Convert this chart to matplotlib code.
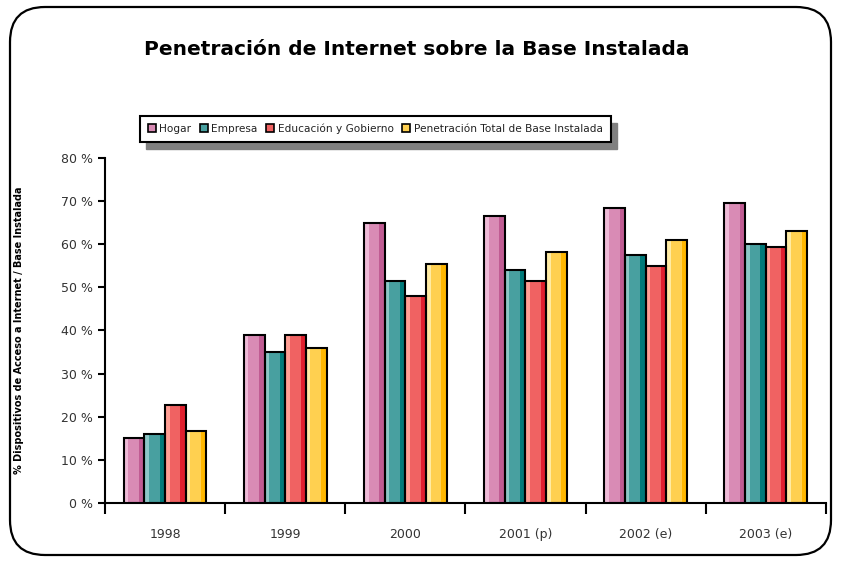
import numpy as np
import matplotlib
matplotlib.use("Agg")
import matplotlib.pyplot as plt
from matplotlib.patches import Patch, FancyBboxPatch, Rectangle

# datos
anios = ["1998", "1999", "2000", "2001 (p)", "2002 (e)", "2003 (e)"]
series = ["Hogar", "Empresa", "Educación y Gobierno", "Penetración Total de Base Instalada"]
hogar = [15.0, 39.0, 65.0, 66.5, 68.5, 69.5]
empresa = [16.0, 35.0, 51.5, 54.0, 57.5, 60.0]
educacion = [22.7, 39.0, 48.0, 51.5, 55.0, 59.3]
total = [16.7, 36.0, 55.5, 58.3, 61.0, 63.0]
valores = [hogar, empresa, educacion, total]

# colores (claro, medio, oscuro)
colores = [
    ("#EDBAD6", "#D98BB5", "#C05C93"),
    ("#8DC7C7", "#48A0A0", "#007A7A"),
    ("#FF9E94", "#F06262", "#E0202E"),
    ("#FFEBA3", "#FFD050", "#FFB700"),
]

fig = plt.figure(figsize=(8.41, 5.62), dpi=100)

# marco redondeado
marco = FancyBboxPatch((0.1, 0.07), 8.21, 5.48, boxstyle="round,pad=0,rounding_size=0.35",
                       transform=fig.dpi_scale_trans, fill=False, lw=1.6, edgecolor="black")
fig.patches.append(marco)

ax = fig.add_axes([0.1249, 0.105, 0.857, 0.614])

x = np.arange(len(anios))
w = 0.172
for i, vals in enumerate(valores):
    claro, medio, oscuro = colores[i]
    pos = x + (i - 1.5) * w
    izq = pos - w / 2
    ax.bar(pos, vals, w, color=medio, edgecolor="none", zorder=2)
    ax.bar(izq, vals, w * 0.22, align="edge", color=claro, edgecolor="none", zorder=3)
    ax.bar(izq + w * 0.74, vals, w * 0.26, align="edge", color=oscuro, edgecolor="none", zorder=3)
    ax.bar(pos, vals, w, fill=False, edgecolor="black", lw=1.5, zorder=4)

ax.set_xlim(-0.5, 5.5)
ax.set_ylim(0, 80)
ax.set_yticks(np.arange(0, 81, 10))
ax.set_yticklabels([f"{v} %" for v in range(0, 81, 10)], fontsize=9, color="#333333")
ax.set_xticks(np.arange(-0.5, 6, 1))
ax.set_xticklabels([])
ax.set_xticks(x, minor=True)
ax.set_xticklabels(anios, minor=True, fontsize=9, color="#333333")
ax.tick_params(axis="x", which="major", direction="out", length=8, width=1.5)
ax.tick_params(axis="x", which="minor", length=0, pad=18)
ax.tick_params(axis="y", direction="out", length=5, width=1.5, pad=4)
for s in ["top", "right"]:
    ax.spines[s].set_visible(False)
for s in ["left", "bottom"]:
    ax.spines[s].set_linewidth(1.5)

ax.set_ylabel("% Dispositivos de Acceso a Internet / Base Instalada", fontsize=7,
              fontweight="bold", labelpad=26)

fig.text(0.495, 0.912, "Penetración de Internet sobre la Base Instalada", ha="center",
         va="center", fontsize=14.5, fontweight="bold")

handles = [Patch(facecolor=c[1], edgecolor="black", lw=1.2) for c in colores]
leg = fig.legend(handles, series, loc="center", bbox_to_anchor=(0.446, 0.771), ncol=4,
                 fontsize=7.6, frameon=True, fancybox=False, framealpha=1,
                 handlelength=0.8, handleheight=0.8, handletextpad=0.3, columnspacing=0.8,
                 borderpad=0.75, edgecolor="black")
leg.get_frame().set_linewidth(1.5)
leg.set_zorder(5)
for t in leg.get_texts():
    t.set_color("#222222")

# sombra de la leyenda
fig.canvas.draw()
bb = leg.get_window_extent().transformed(fig.transFigure.inverted())
sombra = Rectangle((bb.x0 + 6 / 841, bb.y0 - 7 / 562), bb.width, bb.height,
                   transform=fig.transFigure, color="#808080", zorder=4)
fig.patches.append(sombra)

fig.savefig("out.png", dpi=100)
